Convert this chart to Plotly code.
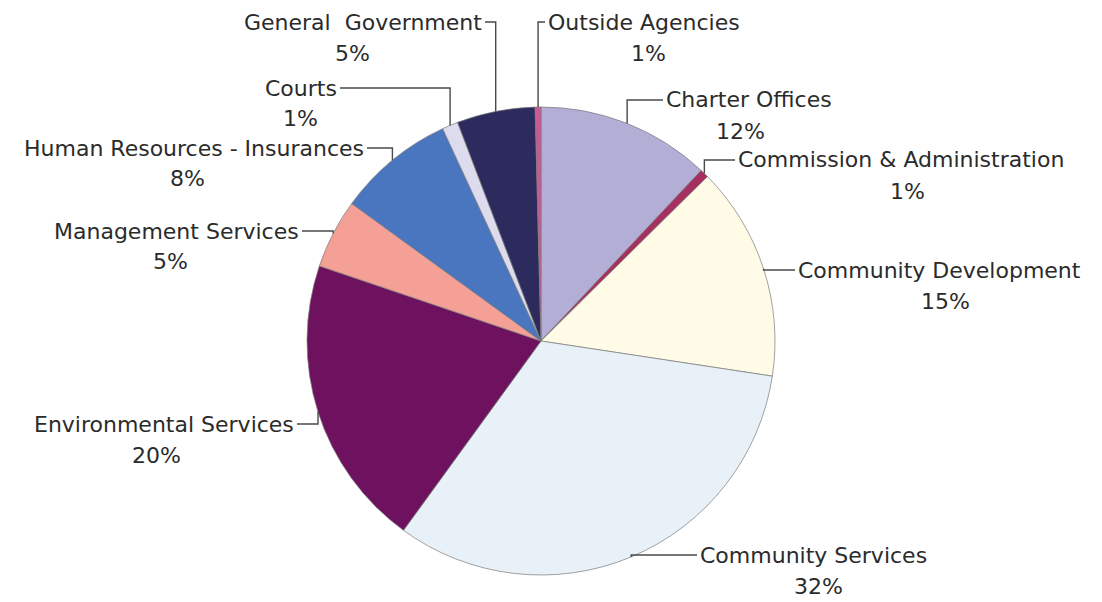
import plotly.graph_objects as go
import math

# Budget shares, clockwise from 12 o'clock
departments = [
    "Charter Offices",
    "Commission & Administration",
    "Community Development",
    "Community Services",
    "Environmental Services",
    "Management Services",
    "Human Resources - Insurances",
    "Courts",
    "General\u00a0 Government",
    "Outside Agencies",
]
shares = [12.0, 0.6, 14.8, 32.6, 20.2, 4.8, 8.1, 1.1, 5.4, 0.4]
share_labels = ["12%", "1%", "15%", "32%", "20%", "5%", "8%", "1%", "5%", "1%"]

slice_colors = ["#b3aed6", "#a6305f", "#fffbe6", "#e8f1f8", "#6e1260",
                "#f4a096", "#4a75bf", "#dcdcee", "#2d2b5e", "#c85a96"]

# page geometry (pixels); the page body adds an 8px margin
PAGE_W, PAGE_H = 1102, 602
OFF = 8
W, H = PAGE_W - OFF, PAGE_H - OFF
CX, CY, R = 541, 341, 234

# label placement in page pixels:
# (leader start x, name line y, side the name sits on, percent centre x)
label_pos = [
    (663, 100, "right", 740),
    (735, 160, "right", 907),
    (795, 270, "right", 945),
    (697, 555, "right", 818),
    (297, 424, "left", 157),
    (302, 231, "left", 170),
    (367, 148, "left", 187),
    (340, 88, "left", 300),
    (485, 22, "left", 352),
    (545, 22, "right", 648),
]

def px(x):
    return (x - OFF) / W

def py(y):
    return 1 - (y - OFF) / H

fig = go.Figure(go.Pie(
    labels=departments,
    values=shares,
    sort=False,
    direction="clockwise",
    rotation=0,
    textinfo="none",
    hoverinfo="label+percent",
    marker=dict(colors=slice_colors, line=dict(color="#7a7a7a", width=0.7)),
    domain=dict(x=[px(CX - R), px(CX + R)], y=[py(CY + R), py(CY - R)]),
    showlegend=False,
))

annotations = []
shapes = []
total = sum(shares)
cum = 0
for name, val, pct, (sx, ly, side, pcx) in zip(departments, shares, share_labels, label_pos):
    mid = (cum + val / 2) / total * 2 * math.pi
    cum += val
    ax = CX + R * math.sin(mid)
    ay = CY - R * math.cos(mid)
    tx = sx + 1 if side == "right" else sx - 1
    annotations.append(dict(x=px(tx), y=py(ly), xref="paper", yref="paper",
                            text=name, showarrow=False,
                            xanchor="left" if side == "right" else "right",
                            yanchor="middle"))
    annotations.append(dict(x=px(pcx), y=py(ly + 31), xref="paper", yref="paper",
                            text=pct, showarrow=False, xanchor="center", yanchor="middle"))
    path = f"M {px(sx)},{py(ly)} L {px(ax)},{py(ly)} L {px(ax)},{py(ay)}"
    shapes.append(dict(type="path", xref="paper", yref="paper", path=path,
                       line=dict(color="#4a4a4a", width=1.4)))

fig.update_layout(
    width=W, height=H,
    margin=dict(l=0, r=0, t=0, b=0),
    paper_bgcolor="white",
    plot_bgcolor="white",
    font=dict(family="DejaVu Sans", size=22, color="#2b2b2b"),
    annotations=annotations,
    shapes=shapes,
)

fig.write_html("out.html")
